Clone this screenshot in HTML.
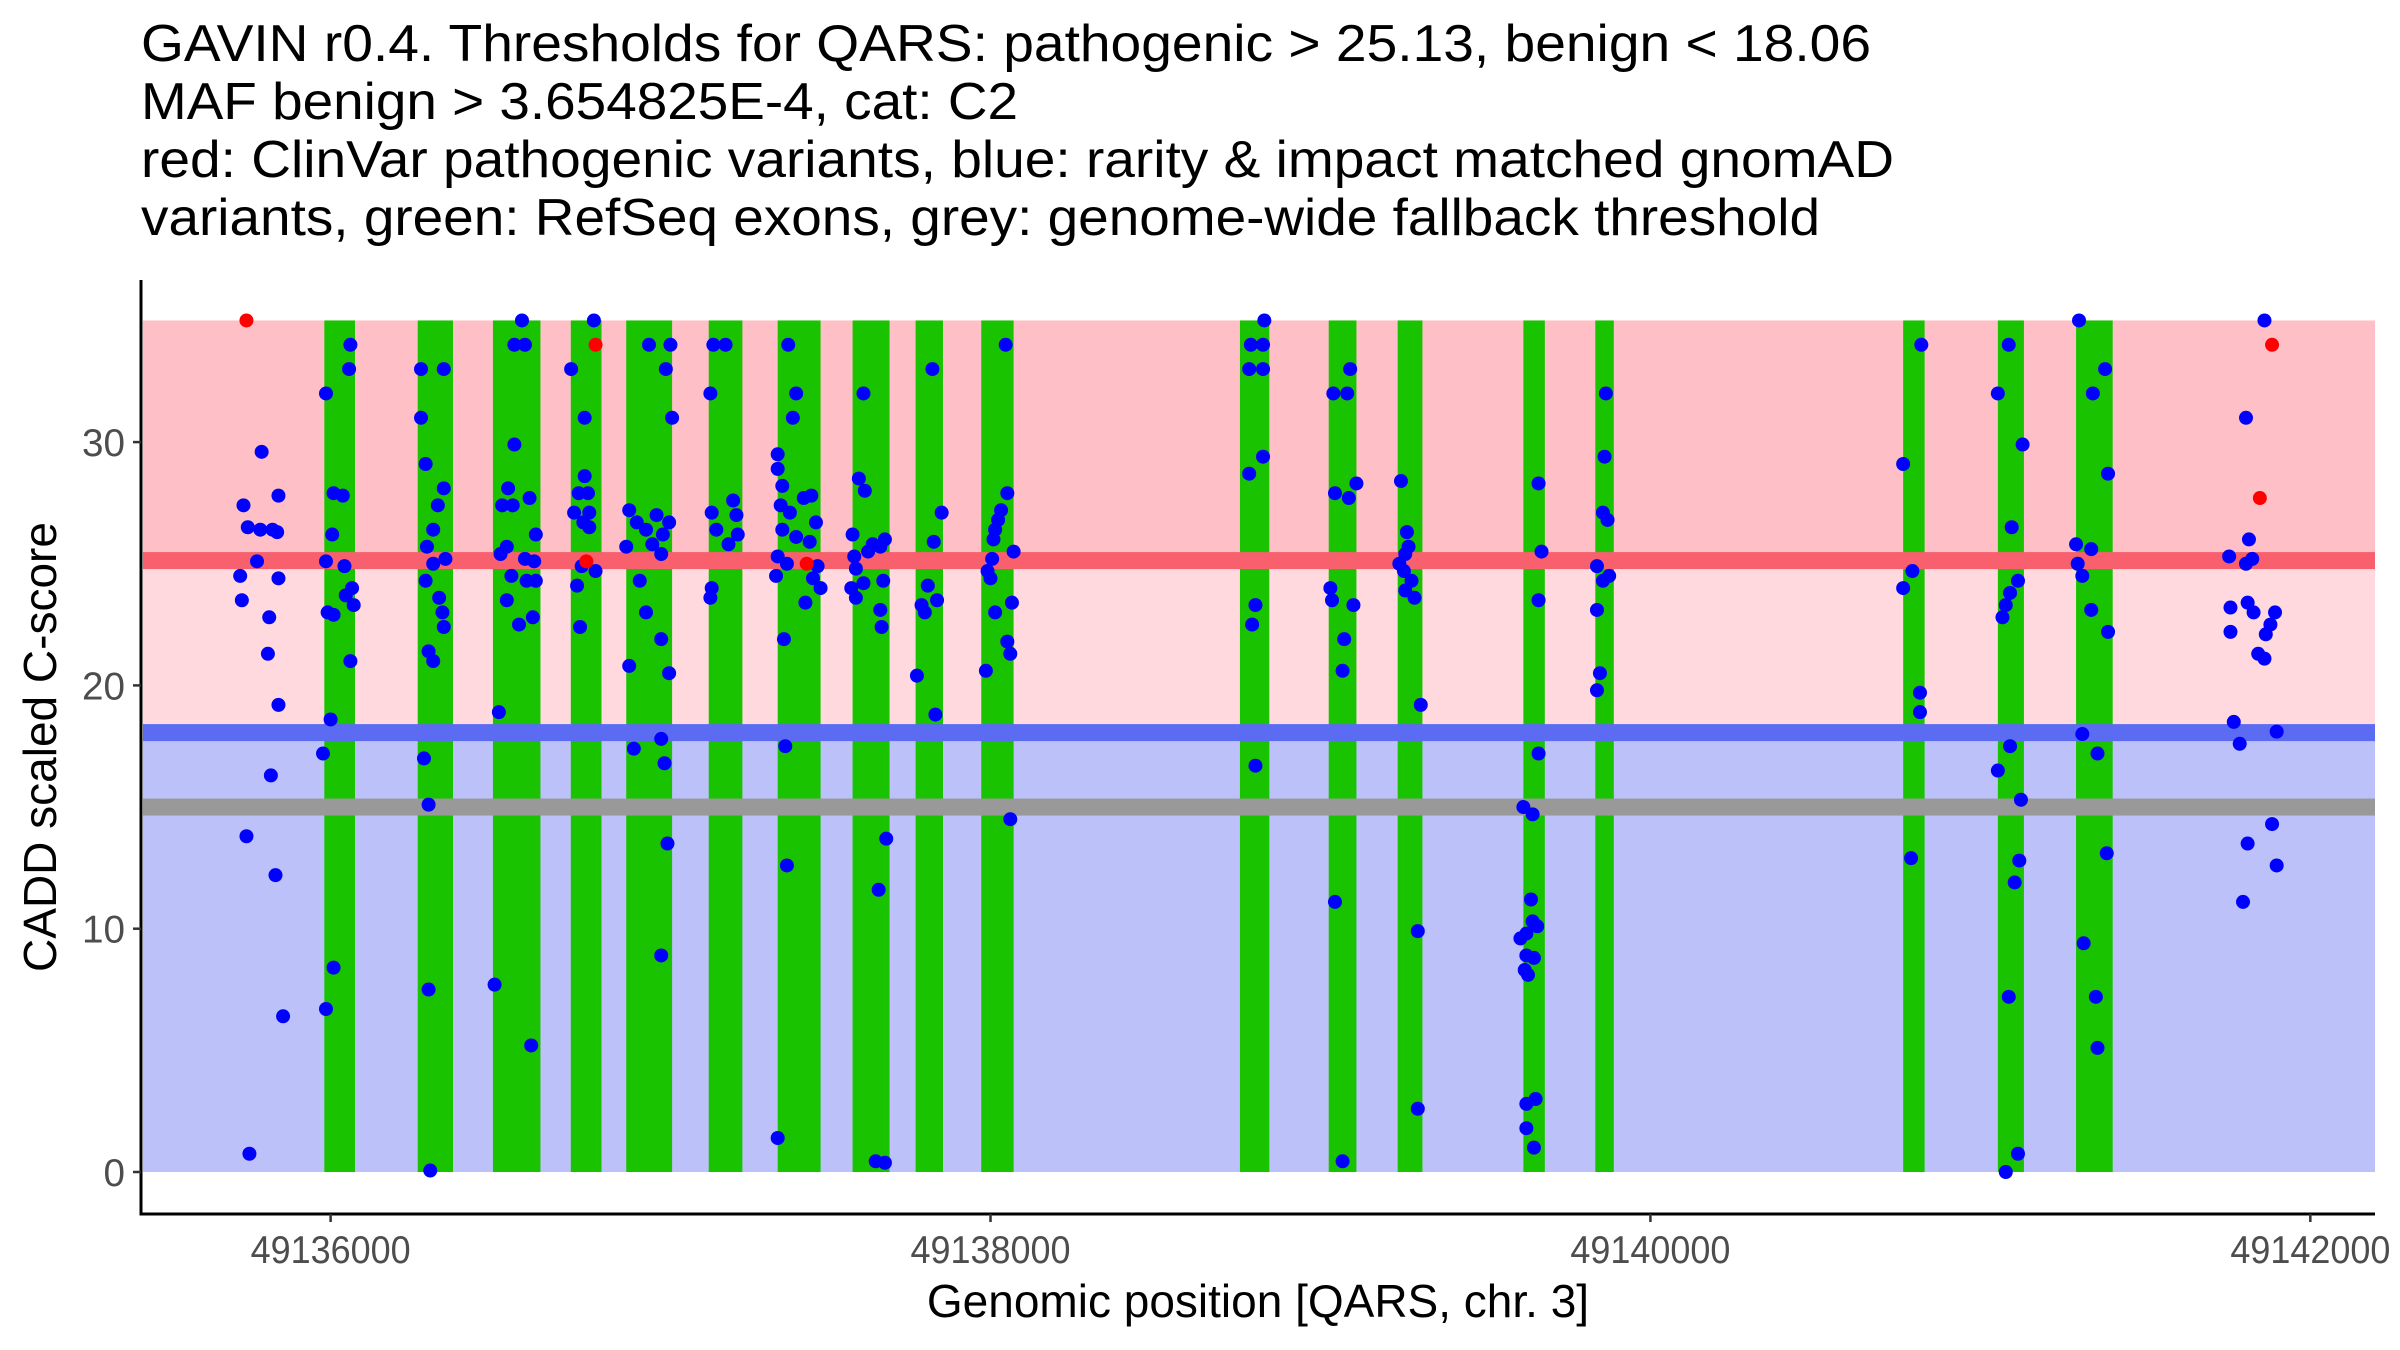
<!DOCTYPE html>
<html><head><meta charset="utf-8">
<style>
html,body{margin:0;padding:0;background:#fff;}
svg{display:block;font-family:"Liberation Sans",Arial,sans-serif;}
</style></head>
<body>
<svg id="chart" width="2400" height="1350" viewBox="0 0 2400 1350" xmlns="http://www.w3.org/2000/svg">
<rect width="2400" height="1350" fill="#fff"/>
<g font-size="52" fill="#000">
<text x="141" y="61" textLength="1730" lengthAdjust="spacingAndGlyphs">GAVIN r0.4. Thresholds for QARS: pathogenic &gt; 25.13, benign &lt; 18.06</text>
<text x="141" y="119" textLength="877" lengthAdjust="spacingAndGlyphs">MAF benign &gt; 3.654825E-4, cat: C2</text>
<text x="141" y="177" textLength="1753" lengthAdjust="spacingAndGlyphs">red: ClinVar pathogenic variants, blue: rarity &amp; impact matched gnomAD</text>
<text x="141" y="235" textLength="1679" lengthAdjust="spacingAndGlyphs">variants, green: RefSeq exons, grey: genome-wide fallback threshold</text>
</g>
<g id="bg"></g><g id="exons"></g><g id="lines"></g><g id="pts"></g><g id="axes"></g>
<text transform="translate(56,747) rotate(-90)" text-anchor="middle" font-size="46">CADD scaled C-score</text>
<text x="1258" y="1317" text-anchor="middle" font-size="46">Genomic position [QARS, chr. 3]</text>
</svg>
<script>
const BASE = 49136000;
const xTicks = [49136000, 49138000, 49140000, 49142000];
const yTicks = [0, 10, 20, 30];
const pathoThreshold = 25.13;
const benignThreshold = 18.06;
const fallbackThreshold = 15.0;
const maxScore = 35;
const exonStarts = [-19,264,492,728,896,1146,1355,1582,1773,1972,2756,3025,3234,3615,3833,4766,5053,5290];
const exonEnds = [74,371,636,821,1035,1248,1485,1694,1856,2070,2845,3109,3309,3680,3889,4831,5132,5401];
// blue variant positions (offset from BASE) and CADD scores
const bluePos = [-264,-251,-209,-213,-176,-158,-162,-274,-158,-223,-269,-186,-190,-158,-181,-255,-167,-144,-246,
-14,60,56,9,37,5,-14,42,65,46,70,-9,9,60,0,-23,9,-14,
274,343,274,288,343,325,311,292,311,348,288,329,339,343,297,311,283,297,297,302,
580,557,589,557,538,603,520,552,622,534,515,589,617,548,594,622,534,571,613,510,497,608,
798,729,770,770,752,780,738,784,766,784,761,803,747,756,
965,1030,1016,1035,905,988,928,956,1026,1007,975,896,1002,937,956,1002,1026,905,919,1002,1012,1021,1002,
1151,1160,1197,1220,1155,1230,1169,1234,1206,1155,1151,
1387,1411,1401,1355,1355,1369,1434,1457,1364,1392,1471,1369,1411,1452,1355,1383,1476,1350,1462,1485,1439,1374,1378,1383,1355,
1615,1601,1619,1582,1680,1643,1666,1587,1629,1592,1615,1578,1592,1666,1670,1675,1684,1661,1652,1680,
1824,1852,1828,1810,1838,1791,1801,1833,1777,
2046,2051,2032,2023,2014,2009,2070,2005,1991,2000,2065,2014,2051,2060,1986,2060,
2830,2789,2826,2784,2826,2826,2784,2803,2793,2803,
3039,3090,3081,3109,3044,3086,3030,3100,3035,3072,3067,3044,3067,
3244,3262,3267,3257,3239,3253,3276,3257,3285,3304,3295,3295,
3661,3670,3661,3661,3615,3643,3638,3643,3624,3657,3606,3624,3647,3619,3629,3652,3624,3624,3647,
3865,3861,3856,3870,3838,3875,3856,3838,3847,3838,
4821,4766,4794,4766,4817,4817,4790,
5086,5053,5128,5095,5114,5090,5077,5067,5090,5053,5123,5118,5104,5086,5114,5077,
5299,5341,5378,5387,5290,5336,5295,5309,5336,5387,5309,5355,5383,5313,5350,5355,
5861,5805,5814,5754,5824,5805,5758,5810,5828,5893,5879,5865,5758,5842,5861,5768,5786,5898,5810,5884,5898,5796];
const blueScore = [27.4,26.5,29.6,26.4,26.4,27.8,26.3,24.5,24.4,25.1,23.5,22.8,21.3,19.2,16.3,13.8,12.2,6.4,0.75,
32.0,34.0,33.0,27.9,27.8,26.2,25.1,24.9,24.0,23.7,23.3,23.0,22.9,21.0,18.6,17.2,8.4,6.7,
33.0,33.0,31.0,29.1,28.1,27.4,26.4,25.7,25.0,25.2,24.3,23.6,23.0,22.4,21.4,21.0,17.0,15.1,7.5,0.06,
35.0,34.0,34.0,29.9,28.1,27.7,27.4,27.4,26.2,25.7,25.4,25.2,25.1,24.5,24.3,24.3,23.5,22.5,22.8,18.9,7.7,5.2,
35.0,33.0,31.0,28.6,27.9,27.9,27.1,27.1,26.7,26.5,24.9,24.7,24.1,22.4,
34.0,34.0,33.0,31.0,27.2,27.0,26.7,26.4,26.7,26.2,25.8,25.7,25.4,24.3,23.0,21.9,20.5,20.8,17.4,17.8,16.8,13.5,8.9,
32.0,34.0,34.0,27.6,27.1,27.0,26.4,26.2,25.8,24.0,23.6,
34.0,32.0,31.0,29.5,28.9,28.2,27.7,27.8,27.4,27.1,26.7,26.4,26.1,25.9,25.3,25.0,24.9,24.5,24.4,24.0,23.4,21.9,17.5,12.6,1.4,
32.0,28.5,28.0,26.2,26.0,25.8,25.7,25.3,25.5,24.8,24.2,24.0,23.6,23.1,22.4,24.3,13.7,11.6,0.44,0.38,
33.0,27.1,25.9,24.1,23.5,23.3,23.0,18.8,20.4,
34.0,27.9,27.2,26.8,26.4,26.0,25.5,25.2,24.7,24.4,23.4,23.0,21.8,21.3,20.6,14.5,
35.0,34.0,34.0,33.0,33.0,29.4,28.7,23.3,22.5,16.7,
32.0,33.0,32.0,28.3,27.9,27.7,24.0,23.3,23.5,21.9,20.6,11.1,0.44,
28.4,26.3,25.7,25.4,25.0,24.7,24.3,23.9,23.6,19.2,9.9,2.6,
28.3,25.5,23.5,17.2,15.0,14.7,11.2,10.3,9.8,10.1,9.6,8.9,8.8,8.3,8.1,3.0,2.8,1.8,1.0,
32.0,29.4,27.1,26.8,24.9,24.5,24.3,23.1,20.5,19.8,
34.0,29.1,24.7,24.0,19.7,18.9,12.9,
34.0,32.0,29.9,26.5,24.3,23.8,23.3,22.8,17.5,16.5,15.3,12.8,11.9,7.2,0.75,0.0,
35.0,32.0,33.0,28.7,25.8,25.6,25.0,24.5,23.1,22.2,18.0,17.2,13.1,9.4,7.2,5.1,
35.0,31.0,26.0,25.3,25.2,25.0,23.2,23.4,23.0,23.0,22.5,22.1,22.2,21.3,21.1,18.5,17.6,18.1,13.5,14.3,12.6,11.1];
const redPos = [-255,803,775,1443,5884,5847];
const redScore = [35.0,34.0,25.1,25.0,34.0,27.7];

const NS = "http://www.w3.org/2000/svg";
const PL = 141, PR = 2375, AXY = 1214;
function px(p){ return 330.6 + (p - BASE) * 0.329955; }
function py(s){ return 1172 - s * 24.33; }
function mk(tag, attrs, parent){ const e = document.createElementNS(NS, tag); for (const k in attrs) e.setAttribute(k, attrs[k]); parent.appendChild(e); return e; }
const bg = document.getElementById('bg'), ex = document.getElementById('exons'), ln = document.getElementById('lines'), pts = document.getElementById('pts'), ax = document.getElementById('axes');

let r;
r = mk('rect', {x:PL+2, y:py(maxScore), width:PR-PL-2, height:py(pathoThreshold)-py(maxScore), fill:'#ffbfc6'}, bg);


r = mk('rect', {x:PL+2, y:py(pathoThreshold), width:PR-PL-2, height:py(benignThreshold)-py(pathoThreshold), fill:'#ffd9dd'}, bg);


r = mk('rect', {x:PL+2, y:py(benignThreshold), width:PR-PL-2, height:py(0)-py(benignThreshold), fill:'#bcc1f9'}, bg);



for (let i = 0; i < exonStarts.length; i++) {
  const e = mk('rect', {x:px(BASE+exonStarts[i]), y:py(maxScore), width:px(BASE+exonEnds[i])-px(BASE+exonStarts[i]), height:py(0)-py(maxScore), fill:'#19c300'}, ex);
  
  
}
const thr = [[pathoThreshold,'#f8606e','pathogenic-threshold-line'],[benignThreshold,'#5b6cf2','benign-threshold-line'],[fallbackThreshold,'#999999','fallback-threshold-line']];
for (const t of thr) {
  const l = mk('rect', {x:PL+2, y:py(t[0])-8.5, width:PR-PL-2, height:17, fill:t[1]}, ln);
  
  
}
for (let i = 0; i < bluePos.length; i++) {
  const c = mk('circle', {cx:px(BASE+bluePos[i]), cy:py(blueScore[i]), r:7, fill:'#0000ff'}, pts);
  
  
}
for (let i = 0; i < redPos.length; i++) {
  const c = mk('circle', {cx:px(BASE+redPos[i]), cy:py(redScore[i]), r:7, fill:'#ff0000'}, pts);
  
  
}
let a = mk('line', {x1:PL, y1:280, x2:PL, y2:AXY+1.5, stroke:'#000', 'stroke-width':3}, ax);


a = mk('line', {x1:PL-1.5, y1:AXY, x2:PR, y2:AXY, stroke:'#000', 'stroke-width':3}, ax);


for (const v of yTicks) {
  const tk = mk('line', {x1:PL-8, y1:py(v), x2:PL, y2:py(v), stroke:'#333', 'stroke-width':2.5}, ax);
  
  
  const tl = mk('text', {x:PL-16, y:py(v)+14, 'text-anchor':'end', 'font-size':39, fill:'#4d4d4d', textLength:(String(v).length*21.5), lengthAdjust:'spacingAndGlyphs'}, ax);
  tl.textContent = String(v);
  
  
}
for (const v of xTicks) {
  const tk = mk('line', {x1:px(v), y1:AXY, x2:px(v), y2:AXY+8, stroke:'#333', 'stroke-width':2.5}, ax);
  
  
  const tl = mk('text', {x:px(v), y:1263, 'text-anchor':'middle', 'font-size':39, fill:'#4d4d4d', textLength:160, lengthAdjust:'spacingAndGlyphs'}, ax);
  tl.textContent = String(v);
  
  
}
</script>
</body></html>
